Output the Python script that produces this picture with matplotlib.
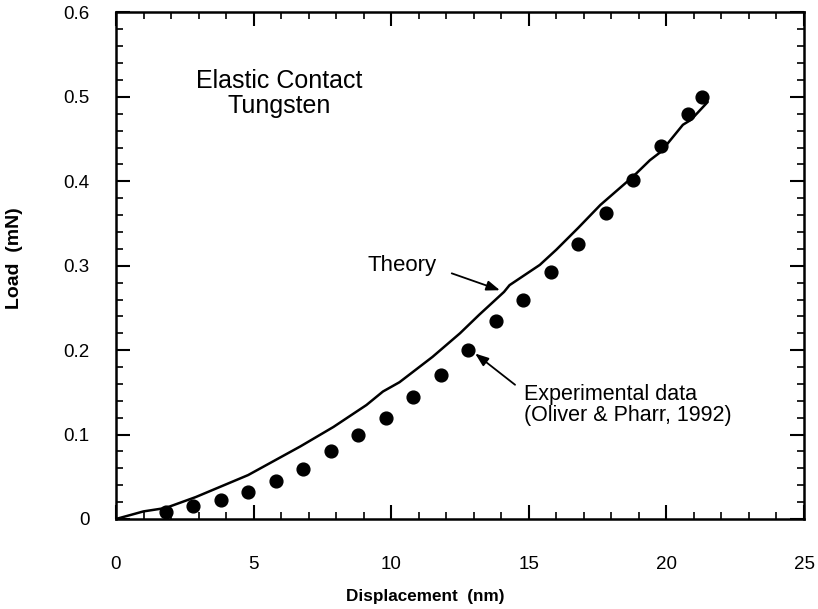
import matplotlib
matplotlib.use("Agg")
import matplotlib.pyplot as plt
from matplotlib.ticker import MultipleLocator

plt.rcParams['font.family'] = ['Liberation Sans', 'DejaVu Sans']

# Experimental load-displacement data (Oliver & Pharr, 1992)
exp_disp = [1.8, 2.8, 3.8, 4.8, 5.8, 6.8, 7.8, 8.8, 9.8, 10.8, 11.8,
            12.8, 13.8, 14.8, 15.8, 16.8, 17.8, 18.8, 19.8, 20.8, 21.3]
exp_load = [0.008, 0.015, 0.022, 0.032, 0.045, 0.059, 0.080, 0.100, 0.120,
            0.145, 0.171, 0.200, 0.235, 0.260, 0.292, 0.326, 0.362, 0.402,
            0.442, 0.480, 0.500]

# Theoretical elastic contact curve
th_disp = [0.0, 1.0, 1.8, 2.9, 4.8, 6.7, 7.9, 9.1, 9.7, 10.3, 11.5, 12.5,
           13.2, 14.1, 14.3, 15.4, 16.0, 16.8, 17.6, 18.8, 19.4, 19.8,
           20.6, 20.9, 21.5]
th_load = [0.0, 0.009, 0.013, 0.026, 0.052, 0.086, 0.109, 0.135, 0.151,
           0.162, 0.192, 0.220, 0.242, 0.269, 0.277, 0.301, 0.319, 0.345,
           0.372, 0.406, 0.425, 0.435, 0.467, 0.473, 0.494]

x_ticks = [0, 5, 10, 15, 20, 25]
x_ticklabels = ['0', '5', '10', '15', '20', '25']
y_ticks = [0, 0.1, 0.2, 0.3, 0.4, 0.5, 0.6]
y_ticklabels = ['0', '0.1', '0.2', '0.3', '0.4', '0.5', '0.6']

fig = plt.figure(figsize=(8.18, 6.09), dpi=100)
ax = fig.add_axes([0.1418, 0.1478, 0.8411, 0.8317])

ax.plot(th_disp, th_load, color='black', lw=1.8, solid_capstyle='round')
ax.plot(exp_disp, exp_load, 'o', color='black', markersize=9.2)

ax.set_xlim(0, 25)
ax.set_ylim(0, 0.6)
ax.set_xticks(x_ticks)
ax.set_xticklabels(x_ticklabels)
ax.set_yticks(y_ticks)
ax.set_yticklabels(y_ticklabels)
ax.xaxis.set_minor_locator(MultipleLocator(1))
ax.yaxis.set_minor_locator(MultipleLocator(0.02))

ax.tick_params(which='both', direction='in', top=True, right=True,
               color='black', labelsize=13.5)
ax.tick_params(which='major', length=10, width=1.5)
ax.tick_params(which='minor', length=5, width=1.2)
ax.tick_params(axis='x', which='major', pad=27)
ax.tick_params(axis='y', which='major', pad=19)

for s in ax.spines.values():
    s.set_linewidth(1.8)

ax.set_xlabel('Displacement  (nm)', fontsize=12.3, fontweight='bold')
ax.set_ylabel('Load  (mN)', fontsize=14, fontweight='bold')
ax.xaxis.set_label_coords(0.449, -0.138)
ax.yaxis.set_label_coords(-0.135, 0.515)

ax.text(5.92, 0.504, 'Elastic Contact\nTungsten', fontsize=18, ha='center',
        va='center', linespacing=1.05)

arrow = dict(arrowstyle='-|>,head_length=0.8,head_width=0.3', color='black',
             lw=1.3, shrinkA=0, shrinkB=0)
ax.text(10.4, 0.300, 'Theory', fontsize=16, ha='center', va='center')
ax.annotate('', xy=(13.95, 0.271), xytext=(12.2, 0.291), arrowprops=arrow)

ax.text(14.83, 0.135, 'Experimental data\n(Oliver & Pharr, 1992)', fontsize=15.5,
        ha='left', va='center', linespacing=1.0)
ax.annotate('', xy=(13.05, 0.196), xytext=(14.5, 0.159), arrowprops=arrow)

fig.savefig('out.png', dpi=100)
